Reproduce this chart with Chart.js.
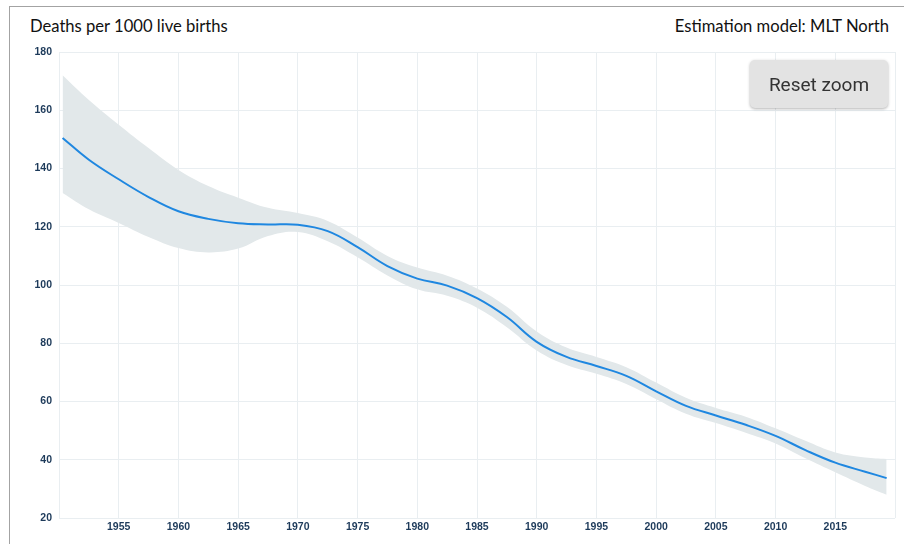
<!DOCTYPE html>
<html>
<head>
<meta charset="utf-8">
<script src="https://cdn.jsdelivr.net/npm/chart.js@4"></script>
<style>
  html, body { margin: 0; padding: 0; background: #fff; }
  body { width: 904px; height: 544px; position: relative; overflow: hidden; }
  .frame { position: absolute; left: 9px; top: 6px; right: -2px; bottom: -2px;
           border-top: 1px solid #a3a3a3; border-left: 1px solid #a3a3a3; }
  .title { position: absolute; top: 16px; font-family: Lato, "Open Sans", sans-serif;
           font-size: 16.6px; color: #111; }
  #left { left: 30px; }
  #right { right: 15px; }
  #wrap { position: absolute; left: 0; top: 0; width: 904px; height: 544px; }
  #reset { position: absolute; left: 750px; top: 60px; width: 138px; height: 48px;
           background: #e3e3e3; border-radius: 5px; box-shadow: 0 1px 3px rgba(0,0,0,0.3);
           font-family: Roboto, sans-serif; font-size: 19px; color: #333;
           display: flex; align-items: center; justify-content: center; }
</style>
</head>
<body>
<div class="frame"></div>
<div class="title" id="left">Deaths per 1000 live births</div>
<div class="title" id="right">Estimation model: MLT North</div>
<div id="wrap"><canvas id="chart"></canvas></div>
<div id="reset">Reset zoom</div>
<script>
const years = [1950.3, 1952.5, 1955, 1957.5, 1960, 1962.5, 1965, 1967.5, 1970, 1972.5,
  1975, 1977.5, 1980, 1982.5, 1985, 1987.5, 1990, 1992.5, 1995, 1997.5,
  2000, 2002.5, 2005, 2007.5, 2010, 2012.5, 2015, 2017.5, 2019.3];
const median = [150.5, 143, 136.3, 130.2, 125.3, 122.7, 121.2, 120.8, 120.7, 118.5,
  113, 106.5, 102.2, 99.8, 95.5, 89, 80.5, 75.3, 72.2, 68.8,
  63.5, 58.5, 55.2, 52, 48.2, 43.3, 39, 35.9, 33.7];
const upper = [172, 163.5, 155, 147, 139.5, 134, 130, 126.5, 124.7, 122,
  116.3, 110, 106, 103.2, 98.8, 92.5, 84, 78.5, 75.3, 71.8,
  66.5, 61.3, 57.8, 54.8, 50.8, 46.5, 42.5, 40.8, 40.3];
const lower = [131.6, 126, 121.3, 116.5, 112.7, 111.2, 112.5, 116.8, 118.2, 115,
  109.5, 103.3, 98.5, 96.3, 92.2, 85.5, 77.5, 72.5, 69.5, 66,
  60.8, 55.8, 52.6, 49.3, 45.6, 40.5, 35.7, 31, 28];
const yTicks = [20, 40, 60, 80, 100, 120, 140, 160, 180];
const xTicks = [1955, 1960, 1965, 1970, 1975, 1980, 1985, 1990, 1995, 2000, 2005, 2010, 2015];

function pts(vals) {
    return years.map((x, i) => ({ x: x, y: vals[i] }));
}

const tickFont = { family: "'Liberation Sans', Arial, sans-serif", size: 10.5, weight: "bold" };
const gridColor = "#e9eef1";

new Chart(document.getElementById("chart").getContext("2d"), {
    type: "line",
    data: {
        datasets: [
            // median first so it is painted above the band
            { data: pts(median), borderColor: "#1f87e0", borderWidth: 2, pointRadius: 0,
              fill: false, tension: 0.4 },
            { data: pts(upper), borderWidth: 0, pointRadius: 0, fill: "+1",
              backgroundColor: "#e2e8ea", tension: 0.4 },
            { data: pts(lower), borderWidth: 0, pointRadius: 0, fill: false,
              tension: 0.4 }
        ]
    },
    options: {
        responsive: true,
        maintainAspectRatio: false,
        animation: false,
        layout: { padding: { top: 52, right: 9, left: 0, bottom: 0 } },
        plugins: { legend: { display: false }, tooltip: { enabled: false } },
        scales: {
            x: {
                type: "linear", min: 1950, max: 2020,
                afterFit: s => { s.height = 26; },
                afterBuildTicks: s => {
                    s.ticks = [1950].concat(xTicks, [2020]).map(v => ({ value: v }));
                },
                ticks: {
                    color: "#1d3a5a", font: tickFont, padding: 3, maxRotation: 0,
                    callback: v => xTicks.includes(v) ? String(v) : ""
                },
                grid: { color: gridColor, drawTicks: false },
                border: { display: false }
            },
            y: {
                min: 20, max: 180,
                afterFit: s => { s.width = 59; },
                afterBuildTicks: s => { s.ticks = yTicks.map(v => ({ value: v })); },
                ticks: { color: "#1d3a5a", font: tickFont, padding: 7 },
                grid: { color: gridColor, drawTicks: false },
                border: { display: false }
            }
        }
    }
});
</script>
</body>
</html>
